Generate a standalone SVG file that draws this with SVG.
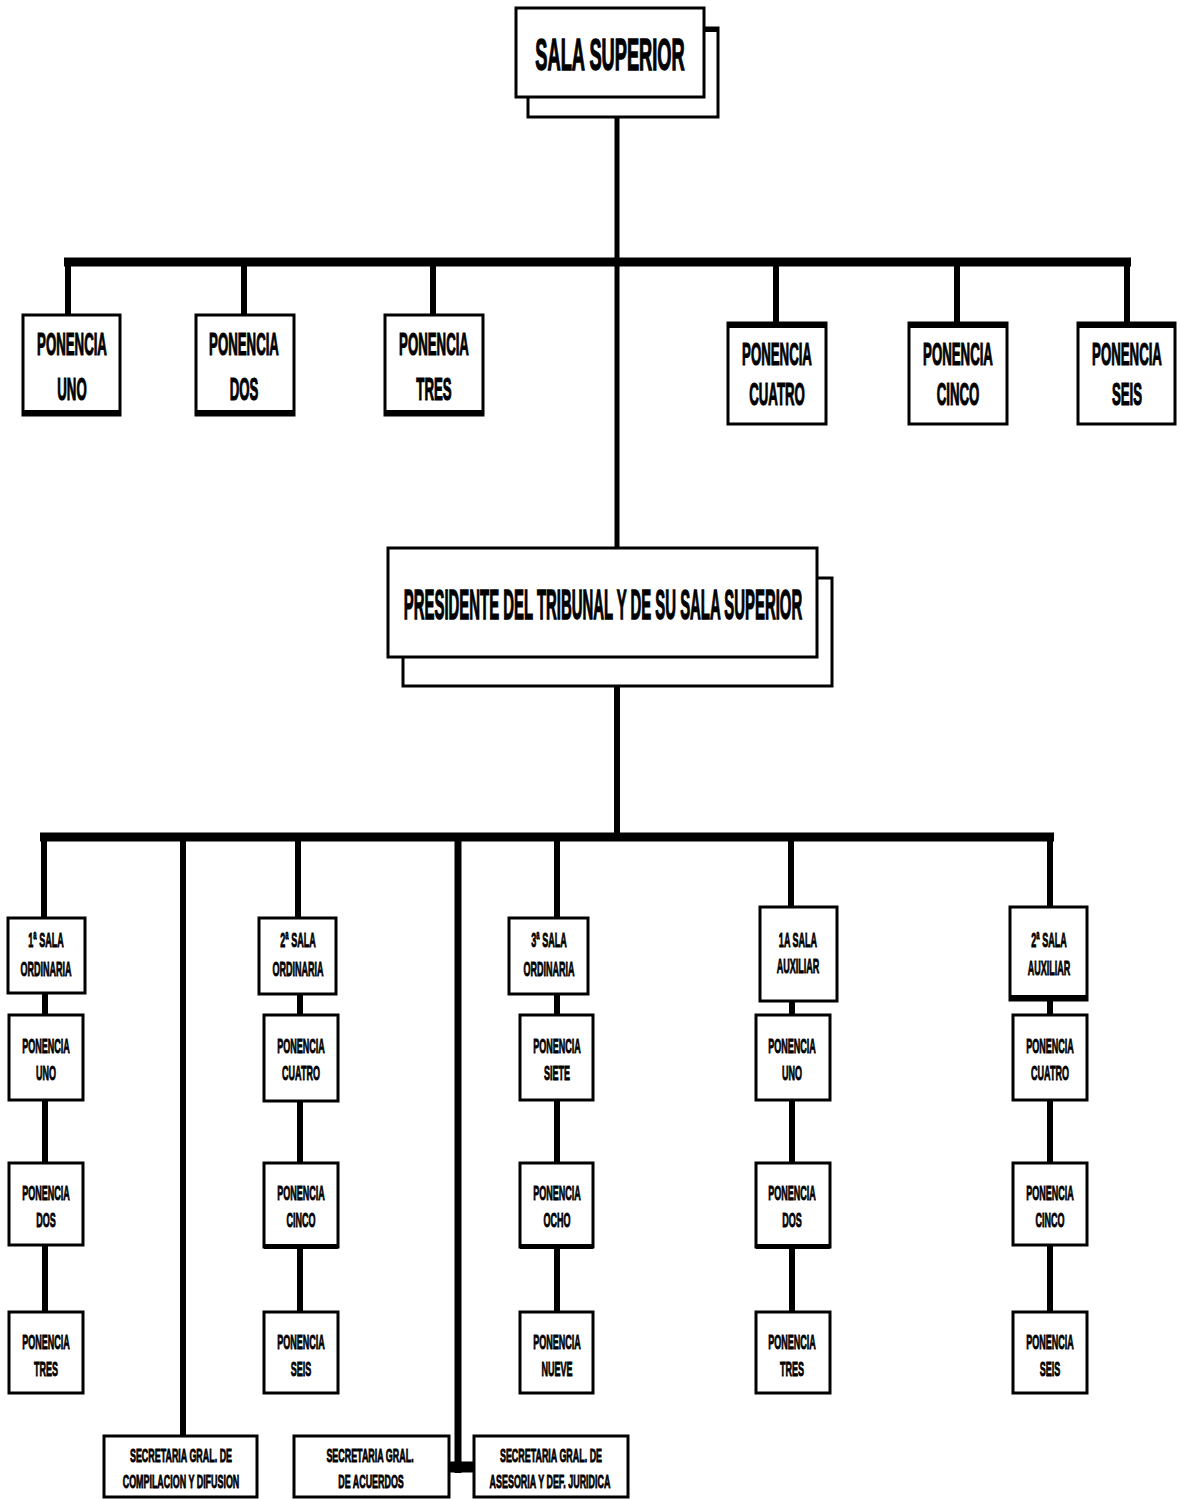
<svg xmlns="http://www.w3.org/2000/svg" width="1180" height="1499" viewBox="0 0 1180 1499">
<style>
.bx{fill:#fff;stroke:#000;stroke-width:3}
.sh{fill:#fff;stroke:#000;stroke-width:3}
.t{font-family:"Liberation Sans",Arial,sans-serif;font-weight:bold;fill:#000;stroke:#000;text-anchor:middle}
.big{font-size:44px;stroke-width:1.4}
.pres{font-size:42px;stroke-width:1.4}
.p1{font-size:32px;stroke-width:1.2}
.s{font-size:21px;stroke-width:0.9}
.sec{font-size:19px;stroke-width:0.9}
.ln{stroke:#000;fill:none}
.thick{fill:#000}
</style>
<rect width="1180" height="1499" fill="#fff"/>
<g id="connectors">
  <line class="ln" x1="617" y1="117" x2="617" y2="548" stroke-width="5"/>
  <line class="ln" x1="64" y1="262" x2="1131" y2="262" stroke-width="9"/>
  <line class="ln" x1="68" y1="262" x2="68" y2="315" stroke-width="6"/>
  <line class="ln" x1="244" y1="262" x2="244" y2="315" stroke-width="6"/>
  <line class="ln" x1="433" y1="262" x2="433" y2="315" stroke-width="6"/>
  <line class="ln" x1="776" y1="262" x2="776" y2="322" stroke-width="6"/>
  <line class="ln" x1="957" y1="262" x2="957" y2="322" stroke-width="6"/>
  <line class="ln" x1="1127" y1="262" x2="1127" y2="322" stroke-width="6"/>
  <line class="ln" x1="617" y1="686" x2="617" y2="837" stroke-width="6"/>
  <line class="ln" x1="40" y1="837" x2="1054" y2="837" stroke-width="9"/>
  <line class="ln" x1="44" y1="837" x2="44" y2="918" stroke-width="6"/>
  <line class="ln" x1="183" y1="837" x2="183" y2="1435" stroke-width="6"/>
  <line class="ln" x1="298" y1="837" x2="298" y2="918" stroke-width="6"/>
  <line class="ln" x1="458" y1="837" x2="458" y2="1473" stroke-width="7"/>
  <line class="ln" x1="557" y1="837" x2="557" y2="918" stroke-width="6"/>
  <line class="ln" x1="791" y1="837" x2="791" y2="907" stroke-width="6"/>
  <line class="ln" x1="1050" y1="837" x2="1050" y2="907" stroke-width="6"/>
  <line class="ln" x1="449" y1="1467" x2="473" y2="1467" stroke-width="11"/>
  <line class="ln" x1="45" y1="993" x2="45" y2="1312" stroke-width="6"/>
  <line class="ln" x1="300" y1="994" x2="300" y2="1312" stroke-width="6"/>
  <line class="ln" x1="557" y1="994" x2="557" y2="1312" stroke-width="6"/>
  <line class="ln" x1="792" y1="1001" x2="792" y2="1312" stroke-width="6"/>
  <line class="ln" x1="1050" y1="1001" x2="1050" y2="1312" stroke-width="6"/>
</g>
<g id="sala-superior">
  <rect class="sh" x="528" y="28" width="190" height="89"/>
  <rect class="thick" x="700" y="27" width="18" height="5"/>
  <rect class="bx" x="516" y="8" width="188" height="89"/>
  <text class="t big" transform="translate(610 70) scale(0.415 1)">SALA SUPERIOR</text>
</g>
<g id="ponencia-uno">
  <rect class="bx" x="23" y="315" width="97" height="100"/>
  <rect class="thick" x="23" y="410" width="97" height="6"/>
  <text class="t p1" transform="translate(72 355) scale(0.414 1)">PONENCIA</text>
  <text class="t p1" transform="translate(72 400) scale(0.414 1)">UNO</text>
</g>
<g id="ponencia-dos">
  <rect class="bx" x="196" y="315" width="98" height="100"/>
  <rect class="thick" x="196" y="410" width="98" height="6"/>
  <text class="t p1" transform="translate(244 355) scale(0.414 1)">PONENCIA</text>
  <text class="t p1" transform="translate(244 400) scale(0.414 1)">DOS</text>
</g>
<g id="ponencia-tres">
  <rect class="bx" x="385" y="315" width="98" height="100"/>
  <rect class="thick" x="385" y="410" width="98" height="6"/>
  <text class="t p1" transform="translate(434 355) scale(0.414 1)">PONENCIA</text>
  <text class="t p1" transform="translate(434 400) scale(0.414 1)">TRES</text>
</g>
<g id="ponencia-cuatro">
  <rect class="bx" x="728" y="323" width="98" height="101"/>
  <rect class="thick" x="728" y="322" width="98" height="6"/>
  <text class="t p1" transform="translate(777 365) scale(0.414 1)">PONENCIA</text>
  <text class="t p1" transform="translate(777 405) scale(0.414 1)">CUATRO</text>
</g>
<g id="ponencia-cinco">
  <rect class="bx" x="909" y="323" width="98" height="101"/>
  <rect class="thick" x="909" y="322" width="98" height="6"/>
  <text class="t p1" transform="translate(958 365) scale(0.414 1)">PONENCIA</text>
  <text class="t p1" transform="translate(958 405) scale(0.414 1)">CINCO</text>
</g>
<g id="ponencia-seis">
  <rect class="bx" x="1078" y="323" width="97" height="101"/>
  <rect class="thick" x="1078" y="322" width="97" height="6"/>
  <text class="t p1" transform="translate(1127 365) scale(0.414 1)">PONENCIA</text>
  <text class="t p1" transform="translate(1127 405) scale(0.414 1)">SEIS</text>
</g>
<g id="presidente">
  <rect class="sh" x="403" y="578" width="429" height="108"/>
  <rect class="bx" x="388" y="548" width="429" height="109"/>
  <text class="t pres" transform="translate(603 619) scale(0.355 1)">PRESIDENTE DEL TRIBUNAL Y DE SU SALA SUPERIOR</text>
</g>
<g id="sala-1-ordinaria">
  <rect class="bx" x="8" y="918" width="77" height="75"/>
  <text class="t s" transform="translate(46 947) scale(0.43 1)">1ª SALA</text>
  <text class="t s" transform="translate(46 976) scale(0.43 1)">ORDINARIA</text>
</g>
<g id="c1-ponencia-uno">
  <rect class="bx" x="9" y="1015" width="74" height="85"/>
  <text class="t s" transform="translate(46 1053) scale(0.43 1)">PONENCIA</text>
  <text class="t s" transform="translate(46 1080) scale(0.43 1)">UNO</text>
</g>
<g id="c1-ponencia-dos">
  <rect class="bx" x="9" y="1163" width="74" height="82"/>
  <text class="t s" transform="translate(46 1200) scale(0.43 1)">PONENCIA</text>
  <text class="t s" transform="translate(46 1227) scale(0.43 1)">DOS</text>
</g>
<g id="c1-ponencia-tres">
  <rect class="bx" x="9" y="1312" width="74" height="81"/>
  <text class="t s" transform="translate(46 1349) scale(0.43 1)">PONENCIA</text>
  <text class="t s" transform="translate(46 1376) scale(0.43 1)">TRES</text>
</g>
<g id="sala-2-ordinaria">
  <rect class="bx" x="259" y="918" width="77" height="76"/>
  <text class="t s" transform="translate(298 947) scale(0.43 1)">2ª SALA</text>
  <text class="t s" transform="translate(298 976) scale(0.43 1)">ORDINARIA</text>
</g>
<g id="c2-ponencia-cuatro">
  <rect class="bx" x="264" y="1015" width="74" height="86"/>
  <text class="t s" transform="translate(301 1053) scale(0.43 1)">PONENCIA</text>
  <text class="t s" transform="translate(301 1080) scale(0.43 1)">CUATRO</text>
</g>
<g id="c2-ponencia-cinco">
  <rect class="bx" x="264" y="1163" width="74" height="84"/>
  <rect class="thick" x="264" y="1244" width="74" height="5"/>
  <text class="t s" transform="translate(301 1200) scale(0.43 1)">PONENCIA</text>
  <text class="t s" transform="translate(301 1227) scale(0.43 1)">CINCO</text>
</g>
<g id="c2-ponencia-seis">
  <rect class="bx" x="264" y="1312" width="74" height="81"/>
  <text class="t s" transform="translate(301 1349) scale(0.43 1)">PONENCIA</text>
  <text class="t s" transform="translate(301 1376) scale(0.43 1)">SEIS</text>
</g>
<g id="sala-3-ordinaria">
  <rect class="bx" x="509" y="918" width="79" height="76"/>
  <text class="t s" transform="translate(549 947) scale(0.43 1)">3ª SALA</text>
  <text class="t s" transform="translate(549 976) scale(0.43 1)">ORDINARIA</text>
</g>
<g id="c3-ponencia-siete">
  <rect class="bx" x="520" y="1015" width="73" height="85"/>
  <text class="t s" transform="translate(557 1053) scale(0.43 1)">PONENCIA</text>
  <text class="t s" transform="translate(557 1080) scale(0.43 1)">SIETE</text>
</g>
<g id="c3-ponencia-ocho">
  <rect class="bx" x="520" y="1163" width="73" height="84"/>
  <rect class="thick" x="520" y="1244" width="73" height="5"/>
  <text class="t s" transform="translate(557 1200) scale(0.43 1)">PONENCIA</text>
  <text class="t s" transform="translate(557 1227) scale(0.43 1)">OCHO</text>
</g>
<g id="c3-ponencia-nueve">
  <rect class="bx" x="520" y="1312" width="73" height="81"/>
  <text class="t s" transform="translate(557 1349) scale(0.43 1)">PONENCIA</text>
  <text class="t s" transform="translate(557 1376) scale(0.43 1)">NUEVE</text>
</g>
<g id="sala-1-auxiliar">
  <rect class="bx" x="760" y="907" width="77" height="94"/>
  <text class="t s" transform="translate(798 947) scale(0.43 1)">1A SALA</text>
  <text class="t s" transform="translate(798 973) scale(0.43 1)">AUXILIAR</text>
</g>
<g id="c4-ponencia-uno">
  <rect class="bx" x="756" y="1015" width="74" height="85"/>
  <text class="t s" transform="translate(792 1053) scale(0.43 1)">PONENCIA</text>
  <text class="t s" transform="translate(792 1080) scale(0.43 1)">UNO</text>
</g>
<g id="c4-ponencia-dos">
  <rect class="bx" x="756" y="1163" width="74" height="84"/>
  <rect class="thick" x="756" y="1244" width="74" height="5"/>
  <text class="t s" transform="translate(792 1200) scale(0.43 1)">PONENCIA</text>
  <text class="t s" transform="translate(792 1227) scale(0.43 1)">DOS</text>
</g>
<g id="c4-ponencia-tres">
  <rect class="bx" x="756" y="1312" width="74" height="81"/>
  <text class="t s" transform="translate(792 1349) scale(0.43 1)">PONENCIA</text>
  <text class="t s" transform="translate(792 1376) scale(0.43 1)">TRES</text>
</g>
<g id="sala-2-auxiliar">
  <rect class="bx" x="1010" y="907" width="77" height="93"/>
  <rect class="thick" x="1010" y="995" width="77" height="6"/>
  <text class="t s" transform="translate(1049 947) scale(0.43 1)">2ª SALA</text>
  <text class="t s" transform="translate(1049 975) scale(0.43 1)">AUXILIAR</text>
</g>
<g id="c5-ponencia-cuatro">
  <rect class="bx" x="1013" y="1015" width="74" height="85"/>
  <text class="t s" transform="translate(1050 1053) scale(0.43 1)">PONENCIA</text>
  <text class="t s" transform="translate(1050 1080) scale(0.43 1)">CUATRO</text>
</g>
<g id="c5-ponencia-cinco">
  <rect class="bx" x="1013" y="1163" width="74" height="82"/>
  <text class="t s" transform="translate(1050 1200) scale(0.43 1)">PONENCIA</text>
  <text class="t s" transform="translate(1050 1227) scale(0.43 1)">CINCO</text>
</g>
<g id="c5-ponencia-seis">
  <rect class="bx" x="1013" y="1312" width="74" height="81"/>
  <text class="t s" transform="translate(1050 1349) scale(0.43 1)">PONENCIA</text>
  <text class="t s" transform="translate(1050 1376) scale(0.43 1)">SEIS</text>
</g>
<g id="sec-compilacion">
  <rect class="bx" x="104" y="1436" width="153" height="61"/>
  <text class="t sec" transform="translate(181 1462) scale(0.47 1)">SECRETARIA GRAL. DE</text>
  <text class="t sec" transform="translate(181 1488) scale(0.47 1)">COMPILACION Y DIFUSION</text>
</g>
<g id="sec-acuerdos">
  <rect class="bx" x="294" y="1436" width="155" height="61"/>
  <text class="t sec" transform="translate(370 1462) scale(0.47 1)">SECRETARIA GRAL.</text>
  <text class="t sec" transform="translate(371 1488) scale(0.47 1)">DE ACUERDOS</text>
</g>
<g id="sec-asesoria">
  <rect class="bx" x="474" y="1436" width="154" height="61"/>
  <text class="t sec" transform="translate(551 1462) scale(0.47 1)">SECRETARIA GRAL. DE</text>
  <text class="t sec" transform="translate(550 1488) scale(0.47 1)">ASESORIA Y DEF. JURIDICA</text>
</g>
</svg>
